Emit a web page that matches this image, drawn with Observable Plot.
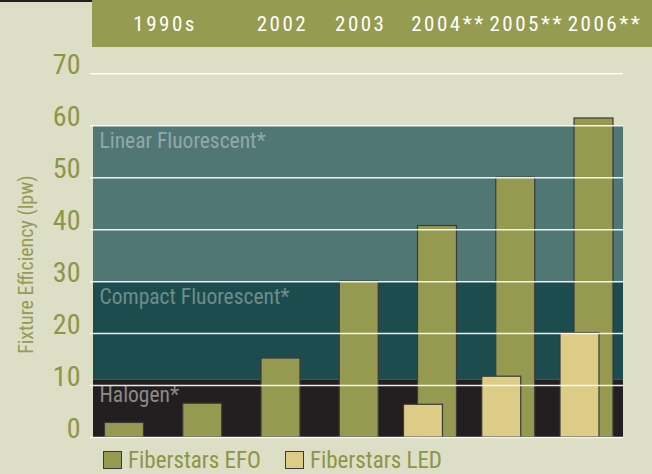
<!DOCTYPE html>
<html><head><meta charset="utf-8">
<script src="https://cdn.jsdelivr.net/npm/d3@7"></script>
<script src="https://cdn.jsdelivr.net/npm/@observablehq/plot@0.6"></script>
<style>
body{margin:0;background:#dcdec6;width:652px;height:474px;overflow:hidden;font-family:"Roboto Condensed","Roboto",sans-serif;font-stretch:condensed;}
#chart svg{display:block}
#legend{position:relative;height:24px;display:flex;align-items:center;padding-left:103px;margin-top:1px}
.item{display:flex;align-items:center;margin-right:24px;}
.sw{width:17px;height:16px;border:1.5px solid #3b3b3b;margin-right:6px}
.lab{font-size:23px;color:#8c9548;line-height:27px}
</style></head><body>
<div id="chart"></div><div id="legend"></div>
<script>
const efoPeriods = ["1990s","1990s","2002","2003","2004**","2005**","2006**"];
const efoValues = [2.8,6.5,15.2,30,40.7,50,61.4];
const ledPeriods = ["2004**","2005**","2006**"];
const ledValues = [6.3,11.7,20.1];
const headerLabels = ["1990s","2002","2003","2004**","2005**","2006**"];
const bandNames = ["Halogen*","Compact Fluorescent*","Linear Fluorescent*"];
const bandLow = [0,11,30];
const bandHigh = [11,30,60];
const yTicks = [0,10,20,30,40,50,60,70];
const seriesNames = ["Fiberstars EFO","Fiberstars LED"];

const seriesColor = {"Fiberstars EFO":"#959a50","Fiberstars LED":"#dccc86"};
const bandFill = {"Halogen*":"#231f20","Compact Fluorescent*":"#1d4c4e","Linear Fluorescent*":"#517775"};
const bandText = {"Halogen*":"#8a8a8a","Compact Fluorescent*":"#6f8c8a","Linear Fluorescent*":"#90a9a7"};

const efo = efoValues.map((v,i)=>({slot:i, value:v, period:efoPeriods[i]}));
const led = ledValues.map((v,i)=>({slot:efoPeriods.lastIndexOf(ledPeriods[i]), value:v}));
const header = headerLabels.map(l=>{
  const idx = efoPeriods.map((p,i)=>p===l?i:-1).filter(i=>i>=0);
  return {label:l, slot:d3.mean(idx), star:l.endsWith("**")};
});
const bands = bandNames.map((n,i)=>({name:n, lo:bandLow[i], hi:bandHigh[i]}));

const font = '"Roboto Condensed","Roboto",sans-serif';
const W = 652, H = 447;
const half = 0.249, ledShift = 0.179;

const plot = Plot.plot({
  width: W, height: H,
  marginLeft: 93, marginRight: 29, marginTop: 73.3, marginBottom: 10,
  style: {background:"transparent", fontFamily: font, fontStretch:"condensed"},
  x: {type:"linear", domain:[-0.396, 6.377], axis:null},
  y: {domain:[0,70], axis:null},
  marks: [
    Plot.rect(bands, {y1:"lo", y2:"hi", fill:d=>bandFill[d.name]}),
    Plot.text(bands, {y:"hi", text:"name", frameAnchor:"left", textAnchor:"start", lineAnchor:"bottom", dx:6, dy:22, fontSize:21.5, fill:d=>bandText[d.name]}),
    Plot.rect(efo, {x1:d=>d.slot-half, x2:d=>d.slot+half, y1:0, y2:"value", fill:seriesColor["Fiberstars EFO"], stroke:"#3a3a3a", strokeWidth:1.2}),
    Plot.rect(led, {x1:d=>d.slot-half-ledShift, x2:d=>d.slot+half-ledShift, y1:0, y2:"value", fill:seriesColor["Fiberstars LED"], stroke:"#3a3a3a", strokeWidth:1.2}),
    Plot.ruleY(yTicks, {stroke:"#ffffff", strokeWidth:1.5, strokeOpacity:0.9, insetLeft:-3}),
    Plot.text(yTicks, {y:d=>d, text:d=>String(d), frameAnchor:"left", textAnchor:"end", lineAnchor:"bottom", dx:-13, fontSize:28, fill:"#8e9548"}),
    Plot.text(["Fixture Efficiency (lpw)"], {frameAnchor:"left", textAnchor:"middle", rotate:-90, dx:-67, dy:9, fontSize:20, fill:"#959b55"}),
    Plot.text(header.filter(d=>!d.star), {x:"slot", text:"label", frameAnchor:"top", lineAnchor:"bottom", dy:-43, dx:1.5, fontSize:21, fill:"#ffffff"}),
    Plot.text(header.filter(d=>d.star), {x:"slot", text:"label", frameAnchor:"top", lineAnchor:"bottom", dy:-43, dx:11, fontSize:21, fill:"#ffffff"})
  ]
});
const svg = d3.select(plot);
svg.selectAll("text").filter(function(){return headerLabels.includes(this.textContent);}).style("letter-spacing","2.5px");
svg.insert("rect", ":first-child").attr("x",92).attr("y",0).attr("width",W-92).attr("height",47).attr("fill","#959b51");
svg.insert("rect", ":first-child").attr("x",0).attr("y",0).attr("width",92).attr("height",2).attr("fill","#231f20");
document.getElementById("chart").appendChild(plot);

const lg = d3.select("#legend");
seriesNames.forEach(n=>{
  const it = lg.append("div").attr("class","item");
  it.append("div").attr("class","sw").style("background",seriesColor[n]);
  it.append("span").attr("class","lab").text(n);
});
</script></body></html>
